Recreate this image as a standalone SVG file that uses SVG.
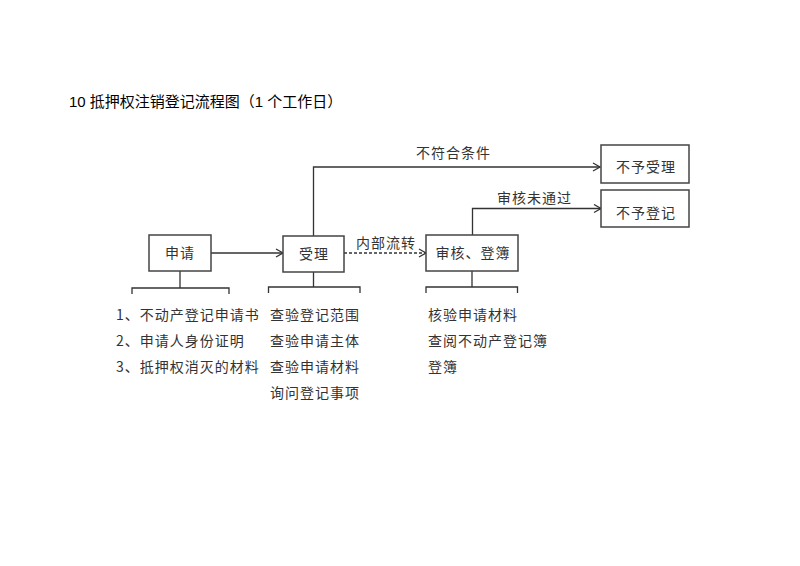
<svg xmlns="http://www.w3.org/2000/svg" width="800" height="566" viewBox="0 0 800 566">
<style>
.box{fill:#fff;stroke:#444;stroke-width:1.5}
.ln{fill:none;stroke:#333;stroke-width:1.3}
.dash{fill:none;stroke:#333;stroke-width:1.3;stroke-dasharray:3 2}
.t{font-family:"Noto Sans CJK SC","Liberation Serif",serif;font-size:14px;fill:#333;letter-spacing:1px}
.ttl{font-family:"Liberation Sans","Noto Sans CJK SC",sans-serif;font-size:15px;fill:#000}
</style>
<defs>
<marker id="arr" markerWidth="10" markerHeight="10" refX="8" refY="5" orient="auto" markerUnits="userSpaceOnUse">
<path d="M1,1 L8,5 L1,9" fill="none" stroke="#333" stroke-width="1.3"/>
</marker>
</defs>
<rect width="800" height="566" fill="#fff"/>
<text class="ttl" x="69" y="107">10 抵押权注销登记流程图（1 个工作日）</text>

<g id="connectors">
<path class="ln" d="M211,253 H283" marker-end="url(#arr)"/>
<path class="dash" d="M344,253 H426" marker-end="url(#arr)"/>
<path class="ln" d="M313.5,236 V167 H600" marker-end="url(#arr)"/>
<path class="ln" d="M472.5,235 V208.5 H601" marker-end="url(#arr)"/>
<path class="ln" d="M180,271 V288 M132,294 V288 H229 V294"/>
<path class="ln" d="M313.5,272 V287 M268.5,293 V287 H360 V293"/>
<path class="ln" d="M472,271 V287 M426,293 V287 H517.5 V293"/>
<text class="t" x="416" y="158">不符合条件</text>
<text class="t" x="497" y="203">审核未通过</text>
<text class="t" x="356" y="248">内部流转</text>
</g>

<g id="n-apply">
<rect class="box" x="149" y="235" width="62" height="36"/>
<text class="t" x="180" y="258" text-anchor="middle">申请</text>
</g>
<g id="n-accept">
<rect class="box" x="283" y="236" width="61" height="36"/>
<text class="t" x="314" y="259" text-anchor="middle">受理</text>
</g>
<g id="n-review">
<rect class="box" x="426" y="235" width="92" height="36"/>
<text class="t" x="473" y="258" text-anchor="middle">审核、登簿</text>
</g>
<g id="n-reject-accept">
<rect class="box" x="601" y="145" width="88" height="38"/>
<text class="t" x="646" y="172" text-anchor="middle">不予受理</text>
</g>
<g id="n-reject-register">
<rect class="box" x="601" y="190" width="88" height="37"/>
<text class="t" x="646" y="218" text-anchor="middle">不予登记</text>
</g>

<g id="list-apply">
<text class="t" x="116" y="320">1、不动产登记申请书</text>
<text class="t" x="116" y="346">2、申请人身份证明</text>
<text class="t" x="116" y="372">3、抵押权消灭的材料</text>
</g>
<g id="list-accept">
<text class="t" x="270" y="319.5">查验登记范围</text>
<text class="t" x="270" y="345.5">查验申请主体</text>
<text class="t" x="270" y="371.5">查验申请材料</text>
<text class="t" x="270" y="397.5">询问登记事项</text>
</g>
<g id="list-review">
<text class="t" x="428" y="319.5">核验申请材料</text>
<text class="t" x="428" y="345.5">查阅不动产登记簿</text>
<text class="t" x="428" y="371.5">登簿</text>
</g>
</svg>
